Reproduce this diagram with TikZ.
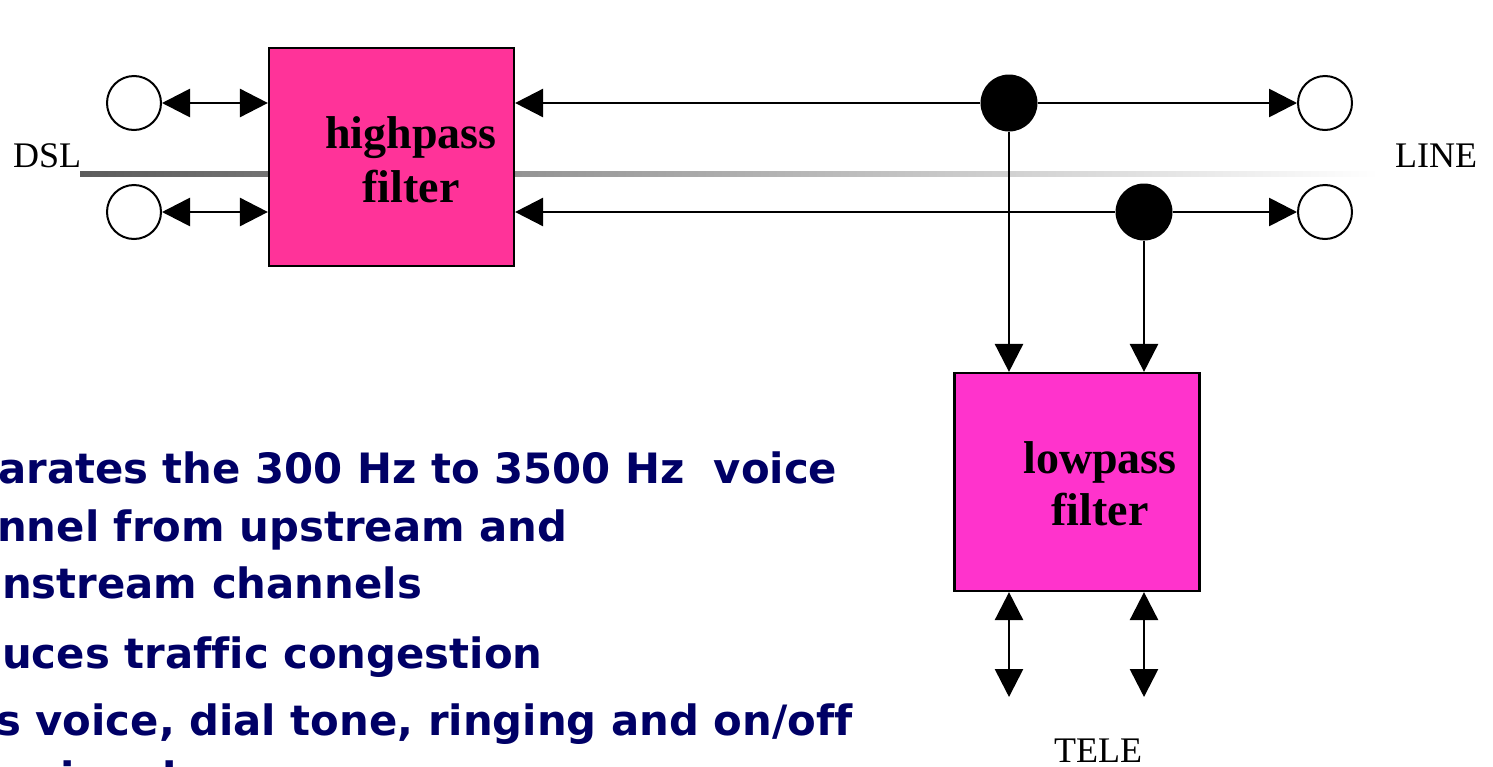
\documentclass[tikz,border=0pt]{standalone}
\usepackage{fontspec}
\setmainfont{Liberation Serif}
\newfontfamily\bulletfont[Ligatures=NoCommon]{DejaVu Sans}
\usetikzlibrary{arrows.meta}
\definecolor{hpfill}{RGB}{255,51,153}
\definecolor{lpfill}{RGB}{255,51,204}
\definecolor{navytext}{RGB}{0,0,102}
\definecolor{wiregray}{RGB}{92,92,92}
\begin{document}
\begin{tikzpicture}[x=1pt,y=-1pt,
  filterbox/.style={draw=black,line width=2.2pt,minimum width=245pt,minimum height=218pt,inner sep=0pt},
  filtertext/.style={font=\bfseries\fontsize{46}{54}\selectfont,anchor=base,inner sep=0pt},
  labeltext/.style={font=\fontsize{36}{40}\selectfont,anchor=base,inner sep=0pt},
  port/.style={circle,draw=black,fill=white,line width=2pt,minimum size=54pt,inner sep=0pt},
  junction/.style={circle,fill=black,minimum size=57pt,inner sep=0pt},
  conn/.style={line width=2.7pt},
  onetip/.style={conn,-{Triangle[length=28pt,width=28pt]}},
  twotips/.style={conn,{Triangle[length=28pt,width=28pt]}-{Triangle[length=28pt,width=28pt]}},
  bullettext/.style={font=\bulletfont\bfseries\fontsize{41.8}{50}\selectfont,text=navytext,anchor=base west,inner sep=0pt}
]
\useasboundingbox (0,0) rectangle (1493,766);
\begin{scope}
\clip (0,0) rectangle (1493,766);
% gray line
\shade[left color=wiregray,right color=white] (80,171.5) rectangle (1378,176);
% boxes
\node[filterbox,fill=hpfill] (hp) at (391.5,157) {};
\node[filterbox,fill=lpfill] (lp) at (1077,482) {};
\node[filtertext] (hpa) at (411,148) {highpass};
\node[filtertext] (hpb) at (411,202) {filter};
\node[filtertext] (lpa) at (1100,473) {lowpass};
\node[filtertext] (lpb) at (1100,525) {filter};
% labels
\node[labeltext,anchor=base west] (dsl) at (13,167) {DSL};
\node[labeltext,anchor=base west] (line) at (1395,167) {LINE};
\node[labeltext] (tele) at (1098,762) {TELE};
% ports and junctions
\node[port] (pl1) at (134,103) {};
\node[port] (pl2) at (134,212) {};
\node[port] (pr1) at (1325,103) {};
\node[port] (pr2) at (1325,212) {};
\node[junction] (j1) at (1009,103) {};
\node[junction] (j2) at (1144,212) {};
\coordinate (t1) at (1009,697);
\coordinate (t2) at (1144,697);
% connectors
\draw[twotips] (pl1) -- (pl1 -| hp.west);
\draw[twotips] (pl2) -- (pl2 -| hp.west);
\draw[onetip] (j1) -- (j1 -| hp.east);
\draw[onetip] (j2) -- (j2 -| hp.east);
\draw[onetip] (j1) -- (pr1);
\draw[onetip] (j2) -- (pr2);
\draw[onetip] (j1) -- (j1 |- lp.north);
\draw[onetip] (j2) -- (j2 |- lp.north);
\draw[twotips] (j1 |- lp.south) -- (t1);
\draw[twotips] (j2 |- lp.south) -- (t2);
% bullet text (cut at the left and bottom edges as in the source)
\node[bullettext] (b1) at (-2,483) {arates the 300 Hz to 3500 Hz\ \ voice};
\node[bullettext] (b2) at (-3,541) {nnel from upstream and};
\node[bullettext] (b3) at (2,598) {nstream channels};
\node[bullettext] (b4) at (2,668) {uces traffic congestion};
\node[bullettext] (b5) at (-4,735) {s voice, dial tone, ringing and on/off};
\node[bullettext] (b6) at (35,792) {signals};
\end{scope}
\end{tikzpicture}
\end{document}
